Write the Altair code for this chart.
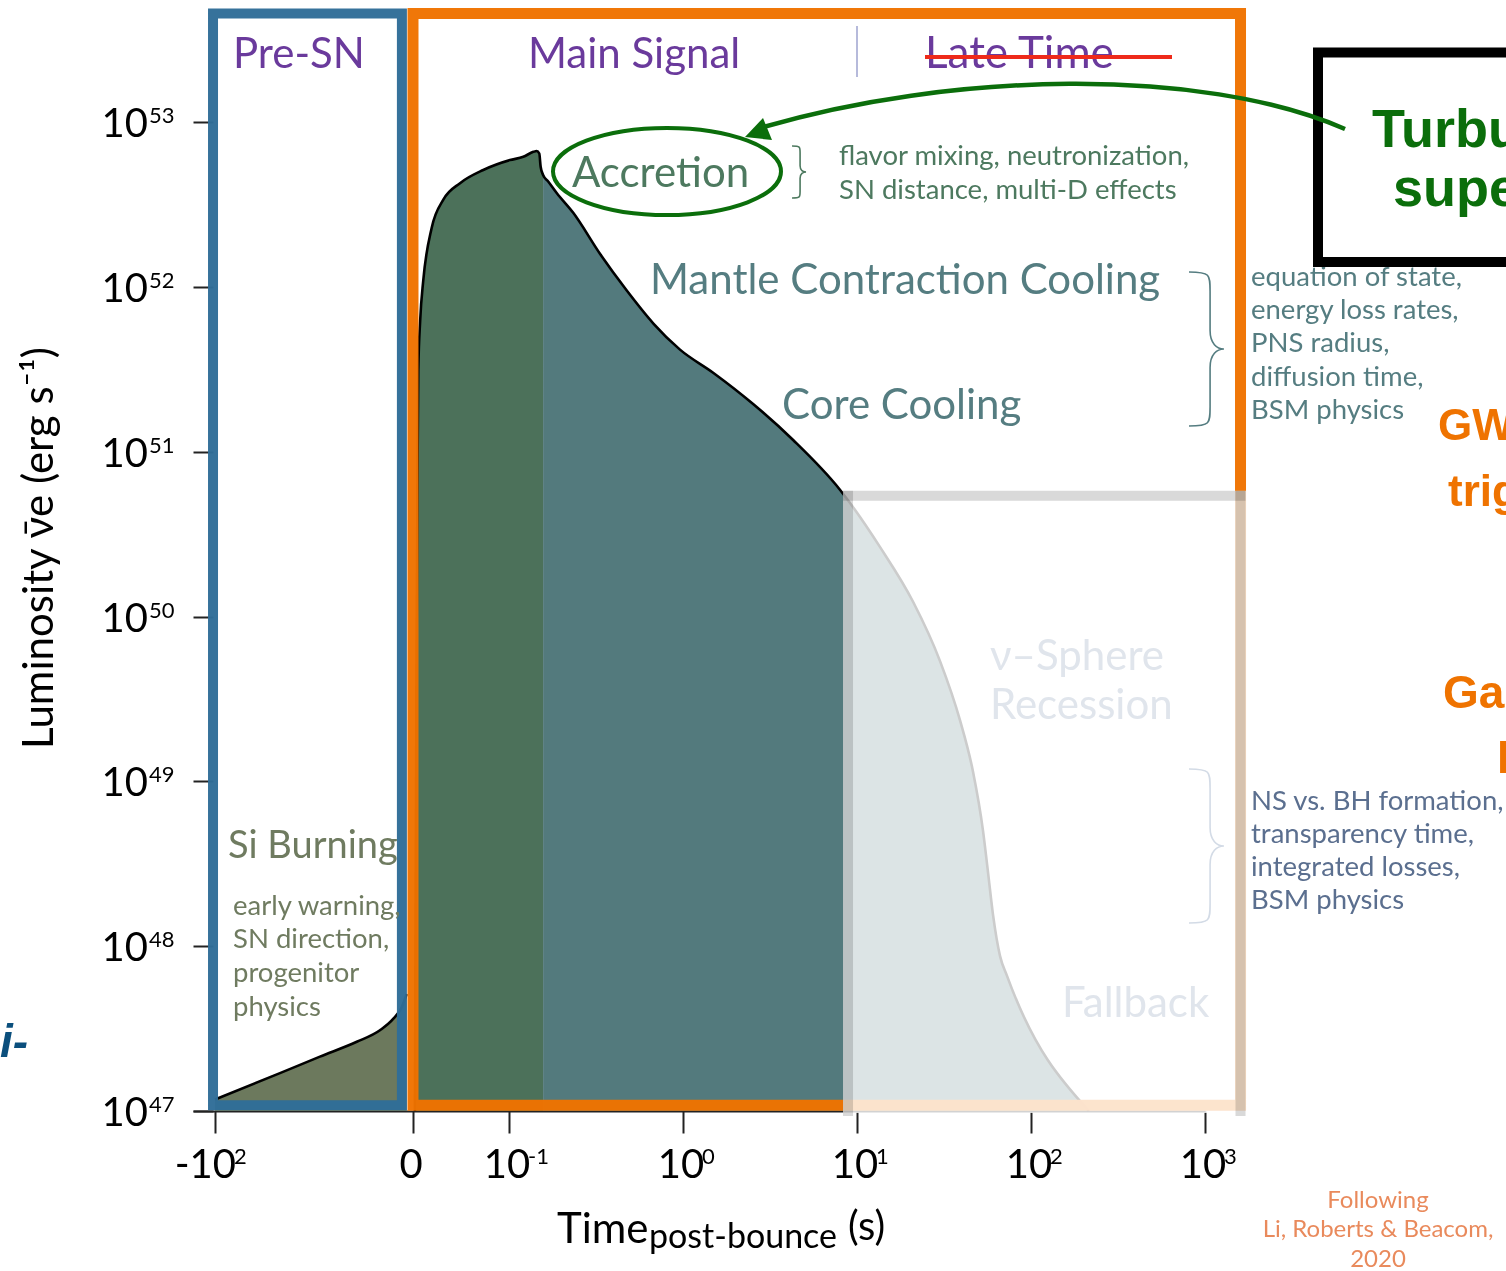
import numpy as np
import pandas as pd
import altair as alt

# ---------------------------------------------------------------------------
# Anti-electron-neutrino light curve: time post-bounce (s) vs log10 L (erg/s)
# ---------------------------------------------------------------------------
PRE_T = [-100.0, -67.2, -47.0, -28.4, -16.7, -9.9, -5.7, -3.2]
PRE_LOGL = [47.07, 47.23, 47.33, 47.42, 47.49, 47.56, 47.63, 47.71]

MAIN_T = [0.002, 0.0035, 0.0045, 0.0055, 0.0075, 0.0107, 0.0195, 0.0316, 0.049,
          0.0732, 0.1013, 0.1208, 0.138, 0.1443, 0.1493, 0.152, 0.157, 0.168,
          0.188, 0.234, 0.334, 0.474, 0.674, 0.961, 1.49, 2.53, 4.31, 7.98,
          13.6, 21.0, 30.0, 39.1, 46.4, 53.0, 56.6, 60.5, 66.4, 72.8, 215.0]
MAIN_LOGL = [47.0, 49.5, 50.7, 51.49, 51.8, 52.04, 52.36, 52.53, 52.63,
             52.71, 52.77, 52.79, 52.82, 52.825, 52.81, 52.73, 52.68, 52.64,
             52.57, 52.45, 52.20, 51.98, 51.78, 51.62, 51.48, 51.29, 51.07, 50.77,
             50.42, 50.09, 49.73, 49.37, 49.06, 48.70, 48.45, 48.19, 47.94, 47.82, 47.0]

ACCRETION_END = 0.157   # s, end of the accretion-phase shading

# Phase boxes: time span (s) and luminosity span (log10 erg/s)
PRE_BOX = dict(t0=-101.0, t1=-5.6, top=53.66, bottom=47.035)
MAIN_BOX = dict(t0=0.0, t1=1600.0, top=53.66, bottom=47.035)
LATE_BOX = dict(t0=8.88, t1=1600.0, top=50.733, bottom=47.0)
LATE_VEIL = dict(t0=8.31, t1=1720.0, top=50.763, bottom=46.988)

X_TICKS = [-100.0, 0.0, 0.1, 1.0, 10.0, 100.0, 1000.0]
X_BASE = ["-10", "0", "10", "10", "10", "10", "10"]
X_EXP = ["2", "", "-1", "0", "1", "2", "3"]
Y_TICKS = [47, 48, 49, 50, 51, 52, 53]

# ---------------------------------------------------------------------------
# Piecewise time axis: linear before bounce, linear 0-0.1 s, log beyond
# (axis unit = one decade)
# ---------------------------------------------------------------------------
DECADE_PX = 174.0
ZERO_U = -96.0 / DECADE_PX
NEG_SPAN = 198.0 / DECADE_PX


def axis_pos(t):
    t = np.asarray(t, dtype=float)
    logpart = np.log10(np.maximum(t, 1e-12)) + 1.0
    linpart = ZERO_U * (1.0 - t / 0.1)
    negpart = ZERO_U + t / 100.0 * NEG_SPAN
    return np.where(t >= 0.1, logpart, np.where(t >= 0, linpart, negpart))


OX, OY = 193, 10                 # plot origin inside the page
PLOT_W, PLOT_H = 1012, 1101
X_DOMAIN = [-316.0 / DECADE_PX, 4.0]
Y_DOMAIN = [47.0, 47.0 + PLOT_H / 164.8]

SANS = "Lato, 'Noto Sans', 'DejaVu Sans', sans-serif"
BOLD = "'Liberation Sans', Arial, sans-serif"

OLIVE_FILL = "#6c795d"
ACC_FILL = "#4c715a"
COOL_FILL = "#537a7d"
BLUE = "#2f6d98"
ORANGE = "#ef7300"
PURPLE = "#6a3a9c"
ACC_TXT = "#4d795f"
TEAL_TXT = "#557d81"
OLIVE_TXT = "#6f7b60"
FAINT = "#e0e5ec"
SLATE = "#5b6f8f"
SALMON = "#e98a5c"
GREEN = "#0b6e0b"
SMALL = 27.5

x_scale = alt.Scale(domain=X_DOMAIN, nice=False, zero=False)
y_scale = alt.Scale(domain=Y_DOMAIN, nice=False, zero=False)
x_axis = alt.Axis(values=[float(v) for v in axis_pos(X_TICKS)], labels=False,
                  tickSize=22, tickWidth=2, tickColor="#222222", domainColor="#222222",
                  domainWidth=2, grid=False, title=None)
y_axis = alt.Axis(values=Y_TICKS, labels=False, tickSize=20, tickWidth=2,
                  tickColor="#222222", domain=False, grid=False, title=None, offset=-20)


def X(field):
    return alt.X(field, type="quantitative", scale=x_scale, axis=x_axis)


def Y(field):
    return alt.Y(field, type="quantitative", scale=y_scale, axis=y_axis)


def one_row(**kw):
    return pd.DataFrame({k: [v] for k, v in kw.items()})


def at(px, py):
    return dict(x=alt.value(px - OX), y=alt.value(py - OY))


def note(text, px, py, size, color, align="left", weight="normal",
         style="normal", font=SANS, angle=None, baseline="alphabetic"):
    props = dict(align=align, baseline=baseline, font=font, fontSize=size,
                 fontWeight=weight, fontStyle=style, color=color)
    if angle is not None:
        props["angle"] = angle
    return alt.Chart(one_row(label=text)).mark_text(**props).encode(
        text="label:N", **at(px, py))


def glyph(path, cx, cy, half, color, width=2.0, filled=False):
    return alt.Chart(one_row(k=0)).mark_point(
        shape=path, size=(2 * half) ** 2, filled=filled, color=color,
        strokeWidth=width, opacity=1).encode(**at(cx, cy))


def brace_path(left, mid, tip):
    h = (mid + tip) / 2
    return (f"M{left},-1 C{mid},-1 {mid},-0.97 {mid},-0.75 L{mid},-0.24 "
            f"C{mid},-0.07 {h},0 {tip},0 C{h},0 {mid},0.07 {mid},0.24 "
            f"L{mid},0.75 C{mid},0.97 {mid},1 {left},1")


def box_frame(box):
    return one_row(pos0=float(axis_pos(box["t0"])), pos1=float(axis_pos(box["t1"])),
                   top=box["top"], bottom=box["bottom"])


# ---------------------------------------------------------------------------
# Curve data
# ---------------------------------------------------------------------------
pre = pd.DataFrame({"t": PRE_T, "logL": PRE_LOGL})
pre["pos"] = axis_pos(pre["t"])
main = pd.DataFrame({"t": MAIN_T, "logL": MAIN_LOGL})
main["pos"] = axis_pos(main["t"])
acc = main[main["t"] <= ACCRETION_END]
cool = main[main["t"] >= ACCRETION_END]

layers = []


def area(df, color):
    return alt.Chart(df).mark_area(color=color, opacity=1, interpolate="monotone").encode(
        x=X("pos"), y=Y("logL"), y2=alt.datum(47.0))


def curve(df):
    return alt.Chart(df).mark_line(color="#000000", strokeWidth=2.6,
                                   interpolate="monotone").encode(x=X("pos"), y=Y("logL"))


layers += [area(pre, OLIVE_FILL), area(acc, ACC_FILL), area(cool, COOL_FILL),
           curve(pre), curve(main)]

# Phase boxes
for box, color, width in [(MAIN_BOX, ORANGE, 11), (PRE_BOX, BLUE, 10)]:
    layers.append(alt.Chart(box_frame(box)).mark_rect(
        fill="transparent", stroke=color, strokeWidth=width, strokeOpacity=0.97).encode(
        x=X("pos0"), x2=alt.X2("pos1"), y=Y("top"), y2=alt.Y2("bottom")))

# Late-time region: whitened veil plus a grey frame on three sides
layers.append(alt.Chart(box_frame(LATE_VEIL)).mark_rect(
    color="#ffffff", opacity=0.8).encode(
    x=X("pos0"), x2=alt.X2("pos1"), y=Y("top"), y2=alt.Y2("bottom")))
l0, l1 = float(axis_pos(LATE_BOX["t0"])), float(axis_pos(LATE_BOX["t1"]))
frame_edges = pd.DataFrame({
    "xa": [l0, l0, l1], "xb": [l0, l1, l1],
    "ya": [LATE_BOX["bottom"], LATE_BOX["top"], LATE_BOX["top"]],
    "yb": [LATE_BOX["top"], LATE_BOX["top"], LATE_BOX["bottom"]],
})
layers.append(alt.Chart(frame_edges).mark_rule(
    color="#d9d9d9", strokeWidth=10, strokeCap="square", blend="multiply").encode(
    x=X("xa"), x2=alt.X2("xb"), y=Y("ya"), y2=alt.Y2("yb")))

# ---------------------------------------------------------------------------
# Tick labels (base and exponent drawn separately)
# ---------------------------------------------------------------------------
xt = pd.DataFrame({"t": X_TICKS, "base": X_BASE, "exp": X_EXP})
xt["pos"] = axis_pos(xt["t"])
layers.append(alt.Chart(xt[xt["t"] >= 0]).mark_text(
    font=SANS, fontSize=40, color="#000000", align="center", baseline="alphabetic", dx=-2).encode(
    x=X("pos"), y=alt.value(1178 - OY), text="base:N"))
layers.append(alt.Chart(xt[xt["t"] < 0]).mark_text(
    font=SANS, fontSize=40, color="#000000", align="right", baseline="alphabetic", dx=21).encode(
    x=X("pos"), y=alt.value(1178 - OY), text="base:N"))
layers.append(alt.Chart(xt[xt["exp"] != ""]).mark_text(
    font=SANS, fontSize=22, color="#000000", align="left", baseline="alphabetic", dx=19).encode(
    x=X("pos"), y=alt.value(1164 - OY), text="exp:N"))

yt = pd.DataFrame({"v": Y_TICKS, "base": ["10"] * len(Y_TICKS),
                   "exp": [str(v) for v in Y_TICKS]})
layers.append(alt.Chart(yt).mark_text(
    font=SANS, fontSize=40, color="#000000", align="right", baseline="alphabetic", dy=15).encode(
    x=alt.value(148 - OX), y=Y("v"), text="base:N"))
layers.append(alt.Chart(yt).mark_text(
    font=SANS, fontSize=22, color="#000000", align="left", baseline="alphabetic", dy=1).encode(
    x=alt.value(149 - OX), y=Y("v"), text="exp:N"))

# Axis titles
layers.append(note("Luminosity \u03bd\u0304e  (erg s\u207b\u00b9)", 40, 548, 42, "#000000",
                   align="center", baseline="middle", angle=270))
layers.append(note("Time", 557, 1243, 42, "#000000"))
layers.append(note("post-bounce", 649, 1248, 34, "#000000"))
layers.append(note("(s)", 848, 1240, 40, "#000000"))

# ---------------------------------------------------------------------------
# Phase labels and annotations
# ---------------------------------------------------------------------------
NOTES = [
    ("Pre-SN", 233, 68, 42, PURPLE),
    ("Main Signal", 528, 68, 42, PURPLE),
    ("Late Time", 925, 68, 44, PURPLE),
    ("Accretion", 572, 187, 42, ACC_TXT),
    ("flavor mixing, neutronization,", 839, 165, SMALL, ACC_TXT),
    ("SN distance, multi-D effects", 839, 199, SMALL, ACC_TXT),
    ("Mantle Contraction Cooling", 650, 294, 42, TEAL_TXT),
    ("Core Cooling", 782, 419, 42, TEAL_TXT),
    ("equation of state,", 1251, 286, SMALL, TEAL_TXT),
    ("energy loss rates,", 1251, 319, SMALL, TEAL_TXT),
    ("PNS radius,", 1251, 352, SMALL, TEAL_TXT),
    ("diffusion time,", 1251, 386, SMALL, TEAL_TXT),
    ("BSM physics", 1251, 419, SMALL, TEAL_TXT),
    ("Si Burning", 228, 858, 38, OLIVE_TXT),
    ("early warning,", 233, 915, SMALL, OLIVE_TXT),
    ("SN direction,", 233, 948, SMALL, OLIVE_TXT),
    ("progenitor", 233, 982, SMALL, OLIVE_TXT),
    ("physics", 233, 1016, SMALL, OLIVE_TXT),
    ("\u03bd\u2013Sphere", 990, 670, 42, FAINT),
    ("Recession", 990, 719, 42, FAINT),
    ("Fallback", 1062, 1017, 42, FAINT),
    ("NS vs. BH formation,", 1251, 810, SMALL, SLATE),
    ("transparency time,", 1251, 843, SMALL, SLATE),
    ("integrated losses,", 1251, 876, SMALL, SLATE),
    ("BSM physics", 1251, 909, SMALL, SLATE),
]
for text, px, py, size, color in NOTES:
    layers.append(note(text, px, py, size, color))

for text, py in [("Following", 1208), ("Li, Roberts & Beacom,", 1237), ("2020", 1267)]:
    layers.append(note(text, 1378, py, 24, SALMON, align="center"))

# Strike-through on "Late Time" and the divider before it
layers.append(alt.Chart(one_row(k=0)).mark_rule(color="#ee2a1a", strokeWidth=4).encode(
    x=alt.value(925 - OX), x2=alt.value(1172 - OX), y=alt.value(57 - OY)))
layers.append(alt.Chart(one_row(k=0)).mark_rule(color="#b6badb", strokeWidth=2).encode(
    x=alt.value(857 - OX), y=alt.value(26 - OY), y2=alt.value(77 - OY)))

# Braces
layers.append(glyph(brace_path(-0.23, 0.08, 0.31), 798, 172, 26, ACC_TXT, width=1.6))
layers.append(glyph(brace_path(-0.234, 0.04, 0.22), 1207, 349, 77, TEAL_TXT, width=1.6))
layers.append(glyph(brace_path(-0.234, 0.04, 0.22), 1207, 846, 77, "#d3dbe6", width=1.6))

# Side panel (continues past the right edge), arrow and ellipse around "Accretion"
layers.append(alt.Chart(one_row(k=0)).mark_rect(
    fill="transparent", stroke="#000000", strokeWidth=10).encode(
    x=alt.value(1318 - OX), x2=alt.value(1700 - OX),
    y=alt.value(52.5 - OY), y2=alt.value(262 - OY)))
layers.append(note("Turbulent", 1372, 147, 54, GREEN, weight="bold", font=BOLD))
layers.append(note("supernovae", 1393, 206, 54, GREEN, weight="bold", font=BOLD))
layers.append(note("GW", 1438, 440, 44, ORANGE, weight="bold", font=BOLD))
layers.append(note("trigger", 1448, 506, 44, ORANGE, weight="bold", font=BOLD))
layers.append(note("Ga", 1443, 708, 46, ORANGE, weight="bold", font=BOLD))
layers.append(note("l", 1497, 773, 44, ORANGE, weight="bold", font=BOLD))
layers.append(note("i-", 0, 1057, 46, "#0b4f7d", weight="bold", style="italic", font=BOLD))

ELLIPSE = ("M-1,0 C-1,-0.2108 -0.5523,-0.3816 0,-0.3816 C0.5523,-0.3816 1,-0.2108 1,0 "
           "C1,0.2108 0.5523,0.3816 0,0.3816 C-0.5523,0.3816 -1,0.2108 -1,0 Z")
layers.append(glyph(ELLIPSE, 667, 171.5, 114, GREEN, width=4))
ARROW_CURVE = "M1,0.1077 C0.5043,-0.1077 -0.3504,-0.0872 -1,0.1043"
layers.append(glyph(ARROW_CURVE, 1052.5, 97.5, 292.5, GREEN, width=4.5))
ARROW_HEAD = "M-1,0.4 L0.2,-0.867 L0.8,0.6 Z"
layers.append(glyph(ARROW_HEAD, 760, 131, 15, GREEN, width=1, filled=True))

chart = alt.layer(*layers).properties(
    width=PLOT_W, height=PLOT_H,
    autosize=alt.AutoSizeParams(type="none"),
    padding={"left": OX, "top": OY, "right": 1506 - OX - PLOT_W,
             "bottom": 1271 - OY - PLOT_H},
    background="#ffffff",
).configure_view(strokeWidth=0)

chart.save("out.html", embed_options={"renderer": "svg", "actions": False})
